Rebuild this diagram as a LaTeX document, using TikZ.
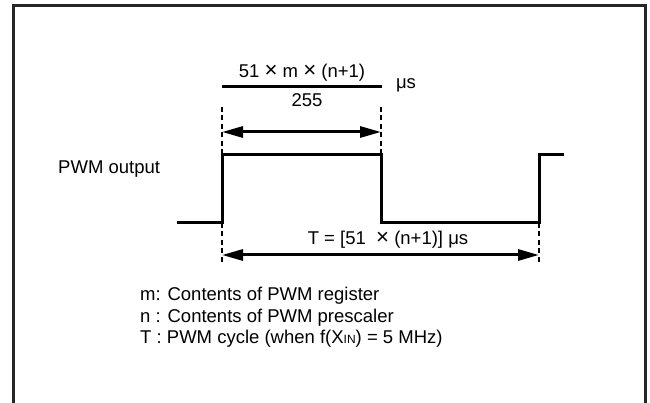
\documentclass[tikz,border=0pt]{standalone}
\usepackage{fontspec}
\setmainfont{Liberation Sans}
\usetikzlibrary{arrows.meta}
\newcommand{\tms}{\scalebox{1.2}{×}}
\begin{document}
\begin{tikzpicture}[
    x=1pt, y=-1pt,
    sig/.style={line width=3pt},
    dim/.style={line width=3pt,{Triangle[length=21pt,width=11pt]}-{Triangle[length=21pt,width=11pt]}},
    guide/.style={line width=2pt,dash pattern=on 5pt off 3.5pt},
    lbl/.style={inner sep=0pt,font=\fontsize{18.5}{21.5}\selectfont},
]

    \useasboundingbox (0,0) rectangle (650,403);
    \draw[line width=3pt,black!85] (13,403) -- (13,6) -- (645,6) -- (645,403);

    % signal corners
    \coordinate (s0) at (177,223);
    \coordinate (s1) at (222,223);
    \coordinate (s2) at (222,155);
    \coordinate (s3) at (381,155);
    \coordinate (s4) at (381,223);
    \coordinate (s5) at (539,223);
    \coordinate (s6) at (539,155);
    \coordinate (s7) at (564,155);

    % guide ends
    \coordinate (gl) at (222,107);
    \coordinate (gr) at (381,107);
    \coordinate (bl) at (222,262);
    \coordinate (br) at (539,262);

    % arrow ends
    \coordinate (a1) at (222,132);
    \coordinate (a2) at (381,132);
    \coordinate (b1) at (222,255);
    \coordinate (b2) at (539,255);

    % fraction bar
    \coordinate (f1) at (222,87);
    \coordinate (f2) at (382,87);

    \node[lbl] (num) at (302,73) {51 \tms\ m \tms\ (n+1)};
    \node[lbl] (den) at (307,100) {255};
    \node[lbl] (unit) at (406,85) {μs};
    \node[lbl,anchor=west] (pwm) at (58,169) {PWM output};
    \node[lbl] (period) at (388,240) {T = [51 \ \tms\ (n+1)] μs};
    \node[lbl,anchor=north west,align=left] (legend) at (140,287) {m: Contents of PWM register\\
        n : Contents of PWM prescaler\\
        T : PWM cycle (when f(X{\fontsize{12}{12}\selectfont IN}) = 5 MHz)};

    \draw[sig] (f1) -- (f2);
    \draw[sig] (s0) -- (s1) -- (s2) -- (s3) -- (s4) -- (s5) -- (s6) -- (s7);

    \draw[guide] (gl) -- (s2);
    \draw[guide] (gr) -- (s3);
    \draw[guide] (s1) -- (bl);
    \draw[guide] (s5) -- (br);

    \draw[dim] (a1) -- (a2);
    \draw[dim] (b1) -- (b2);

\end{tikzpicture}
\end{document}
